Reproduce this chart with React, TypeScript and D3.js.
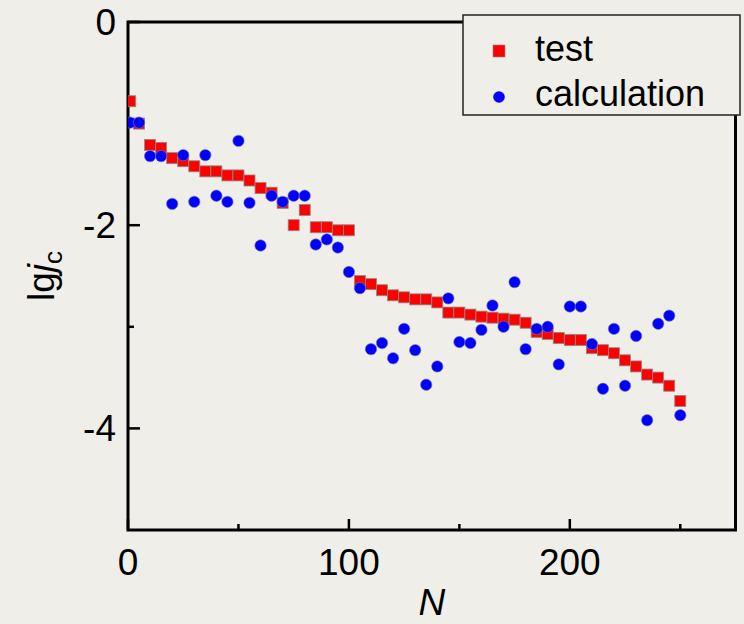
import React from "react";
import * as d3 from "d3";

const nValues = [1, 5, 10, 15, 20, 25, 30, 35, 40, 45, 50, 55, 60, 65, 70, 75, 80, 85, 90, 95, 100,
  105, 110, 115, 120, 125, 130, 135, 140, 145, 150,
  155, 160, 165, 170, 175, 180, 185, 190, 195, 200,
  205, 210, 215, 220, 225, 230, 235, 240, 245, 250];

const testValues = [-0.78, -1.0, -1.21, -1.24, -1.34, -1.37, -1.42, -1.47, -1.47, -1.51, -1.51, -1.56, -1.635, -1.68, -1.78, -2.0, -1.85, -2.02, -2.02, -2.05, -2.05,
  -2.55, -2.58, -2.64, -2.69, -2.71, -2.73, -2.73, -2.76, -2.86, -2.86,
  -2.88, -2.9, -2.91, -2.92, -2.93, -2.96, -3.05, -3.07, -3.11, -3.13,
  -3.13, -3.21, -3.23, -3.26, -3.33, -3.39, -3.47, -3.5, -3.58, -3.73];

const calcValues = [-0.99, -0.99, -1.32, -1.32, -1.79, -1.31, -1.77, -1.31, -1.71, -1.77, -1.17, -1.78, -2.2, -1.71, -1.77, -1.71, -1.71, -2.19, -2.14, -2.22, -2.46,
  -2.62, -3.22, -3.16, -3.31, -3.02, -3.23, -3.57, -3.39, -2.72, -3.15,
  -3.16, -3.03, -2.79, -3.0, -2.56, -3.22, -3.02, -3.0, -3.37, -2.8,
  -2.8, -3.17, -3.61, -3.02, -3.58, -3.09, -3.92, -2.97, -2.89, -3.87];

const xMajorTicks = [0, 100, 200];
const xMinorTicks = [50, 150, 250];
const yMajorTicks = [0, -2, -4];
const yMinorTicks = [-1, -3];

const W = 744;
const H = 624;
const BG = "#efeee8";
const FONT = "'Liberation Sans', Arial, Helvetica, sans-serif";

export default function App() {
  const left = 128, right = 735.5, top = 22, bottom = 530;
  const x = d3.scaleLinear().domain([0, 275]).range([left, right]);
  const y = d3.scaleLinear().domain([-5, 0]).range([bottom, top]);
  const sq = 11;
  const r = 5.7;

  return (
    <svg width={W} height={H} style={{ position: "absolute", left: 0, top: 0 }} fontFamily={FONT}>
      <rect x={0} y={0} width={W} height={H} fill={BG} />
      <defs>
        <clipPath id="plotClip">
          <rect x={left} y={top} width={right - left} height={bottom - top} />
        </clipPath>
      </defs>

      {/* frame */}
      <rect x={left} y={top} width={right - left} height={bottom - top} fill="none" stroke="#000" strokeWidth={3} />

      {/* x ticks */}
      {xMajorTicks.map((t) => (
        <line key={"xM" + t} x1={x(t)} x2={x(t)} y1={bottom} y2={bottom - 11} stroke="#000" strokeWidth={2.5} />
      ))}
      {xMinorTicks.map((t) => (
        <line key={"xm" + t} x1={x(t)} x2={x(t)} y1={bottom} y2={bottom - 6} stroke="#000" strokeWidth={2.5} />
      ))}
      {xMajorTicks.map((t) => (
        <text key={"xl" + t} x={x(t)} y={bottom + 45} fontSize={37} textAnchor="middle" fill="#000">{t}</text>
      ))}

      {/* y ticks */}
      {yMajorTicks.map((t) => (
        <line key={"yM" + t} x1={left} x2={left + 12} y1={y(t)} y2={y(t)} stroke="#000" strokeWidth={2.5} />
      ))}
      {yMinorTicks.map((t) => (
        <line key={"ym" + t} x1={left} x2={left + 6} y1={y(t)} y2={y(t)} stroke="#000" strokeWidth={2.5} />
      ))}
      {yMajorTicks.map((t) => (
        <text key={"yl" + t} x={left - 12} y={y(t) + 13} fontSize={37} textAnchor="end" fill="#000">{t}</text>
      ))}

      {/* axis titles */}
      <text x={(left + right) / 2} y={615} fontSize={37} fontStyle="italic" textAnchor="middle" fill="#000">N</text>
      <text transform={`translate(54, ${(top + bottom) / 2}) rotate(-90)`} fontSize={37} textAnchor="middle" fill="#000">
        lg<tspan fontStyle="italic">j</tspan><tspan fontSize={26} dy={8}>c</tspan>
      </text>

      {/* data */}
      <g clipPath="url(#plotClip)">
        {nValues.map((n, i) => (
          <rect key={"t" + i} x={x(n) - sq / 2} y={y(testValues[i]) - sq / 2} width={sq} height={sq}
            fill="#ff0000" stroke="#8a8a8a" strokeWidth={0.8} />
        ))}
        {nValues.map((n, i) => (
          <circle key={"c" + i} cx={x(n)} cy={y(calcValues[i])} r={r}
            fill="#0000ff" stroke="#7a7a9a" strokeWidth={0.6} />
        ))}
      </g>

      {/* legend */}
      <rect x={463} y={15} width={277} height={100} fill={BG} stroke="#222" strokeWidth={1.5} />
      <rect x={493} y={45} width={12} height={12} fill="#ff0000" stroke="#8a8a8a" strokeWidth={0.6} />
      <circle cx={499} cy={97} r={5.8} fill="#0000ff" />
      <text x={535} y={61} fontSize={36} fill="#000">test</text>
      <text x={535} y={106} fontSize={36} fill="#000">calculation</text>
    </svg>
  );
}
